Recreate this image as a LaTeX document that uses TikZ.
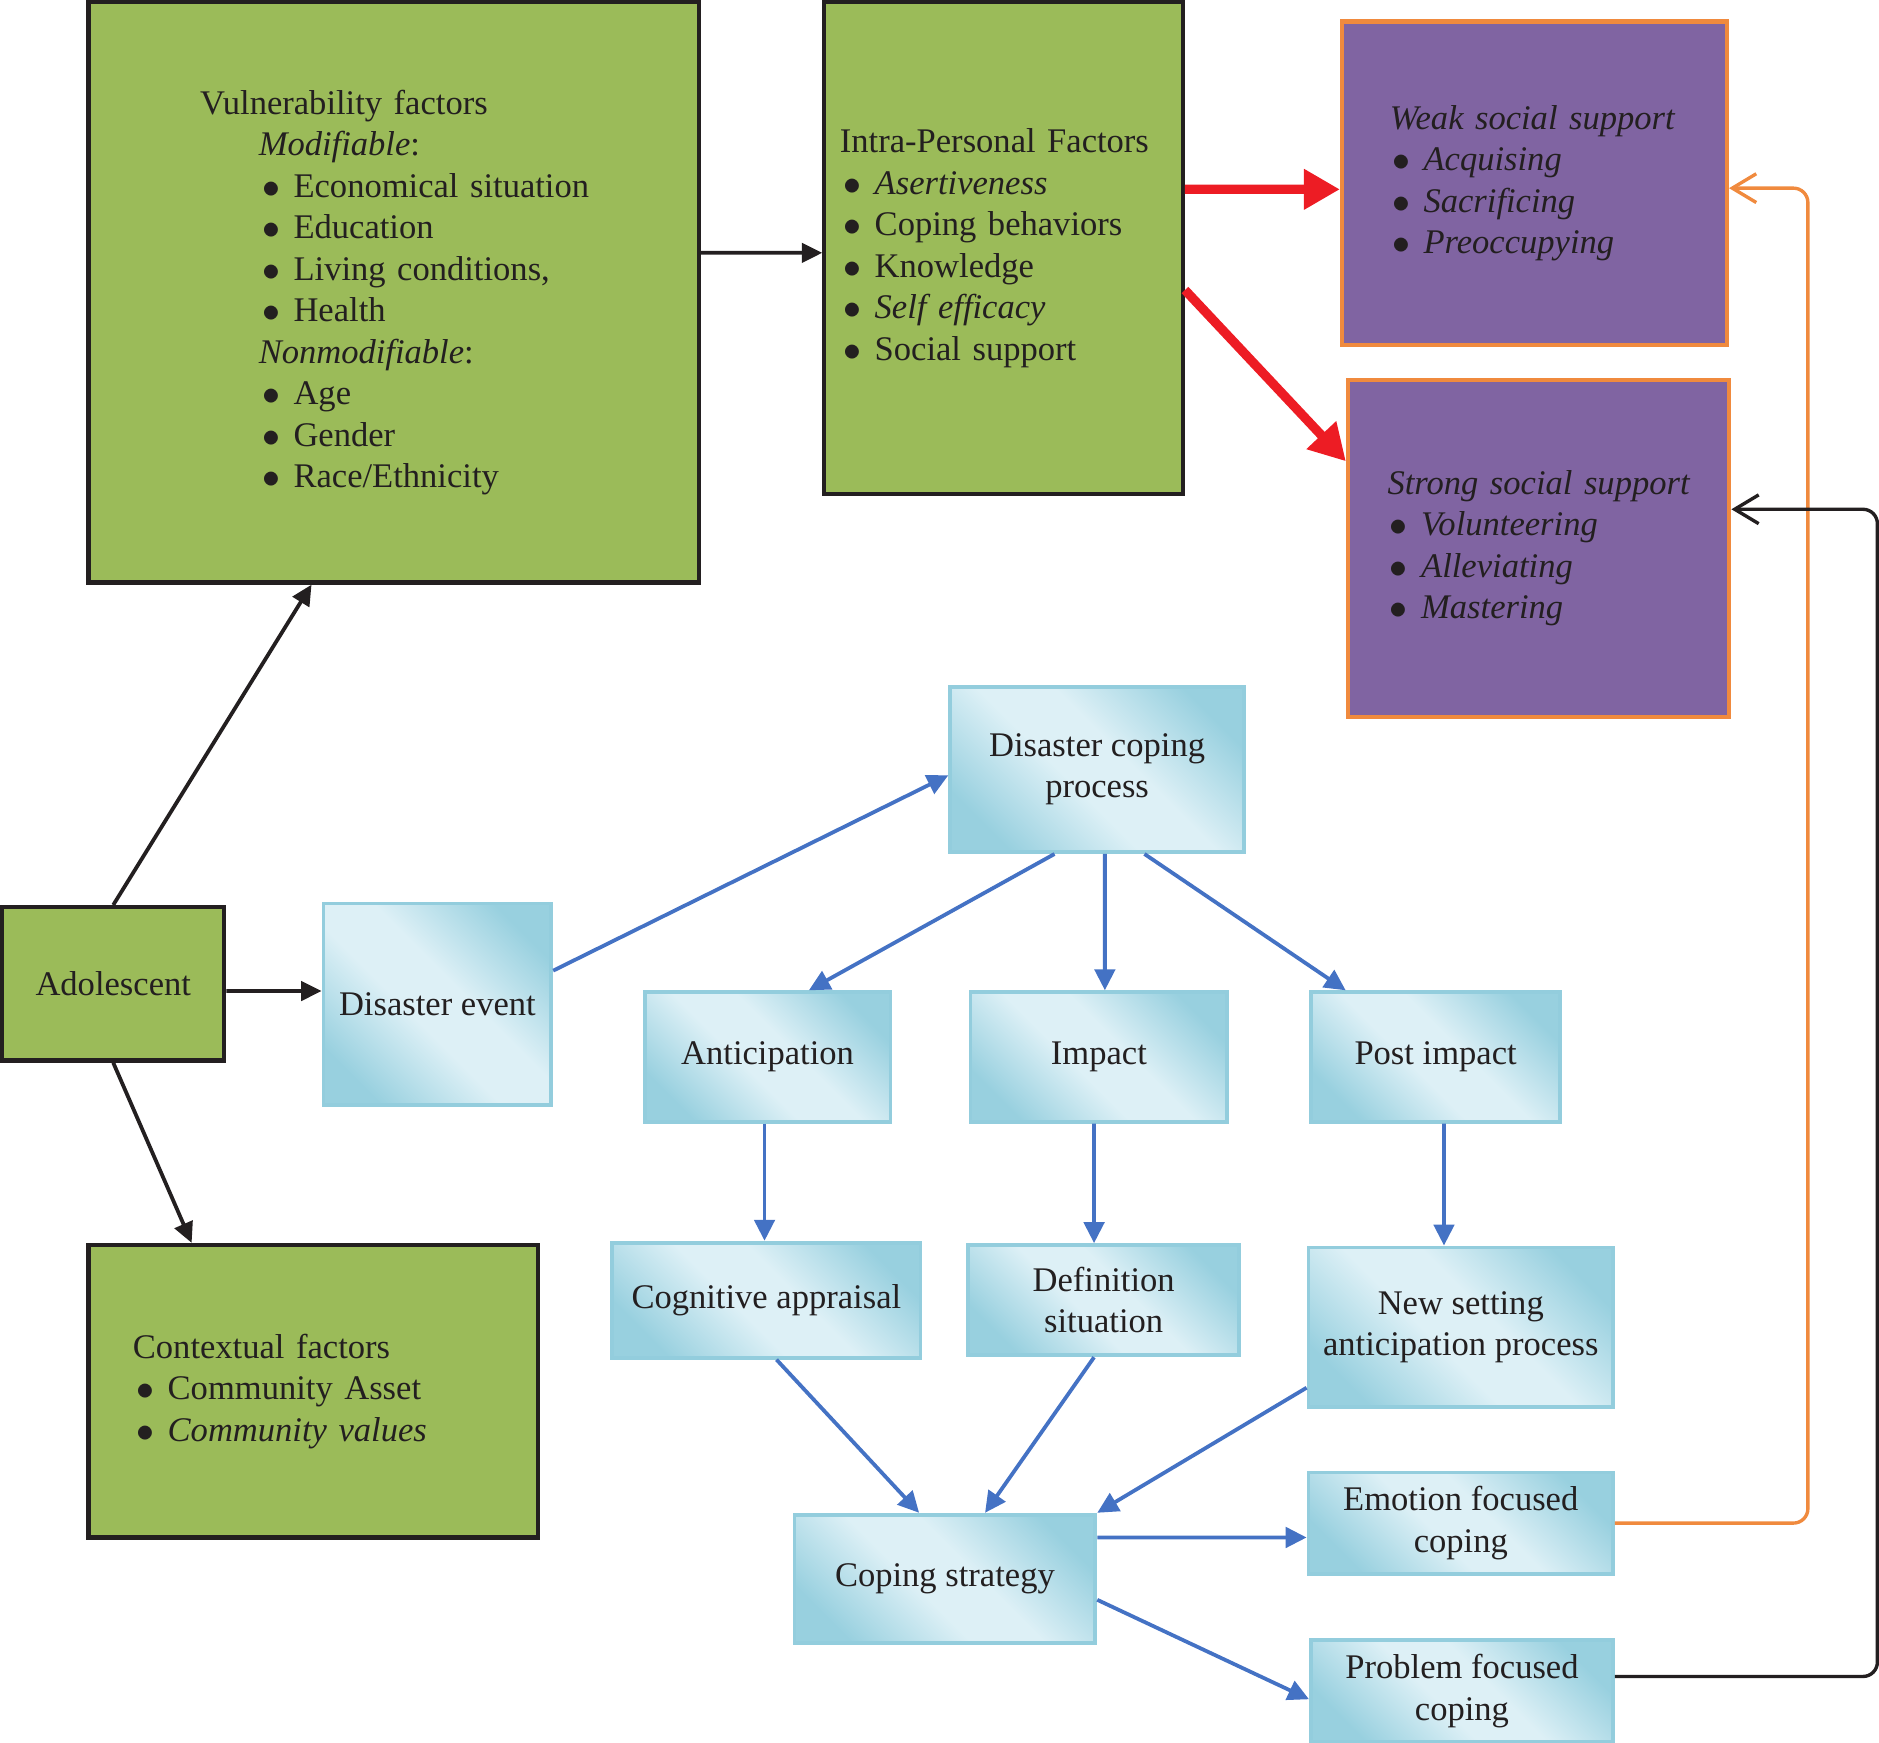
\documentclass[tikz,border=0pt]{standalone}
\usepackage{fontspec}
\setmainfont{Liberation Serif}
\usetikzlibrary{arrows.meta,positioning,calc}

\definecolor{boxgreen}{HTML}{9BBB59}
\definecolor{boxpurple}{HTML}{8064A2}
\definecolor{lineorange}{HTML}{F08A3E}
\definecolor{flowblue}{HTML}{4472C4}
\definecolor{bxline}{HTML}{93CDDD}
\definecolor{bxdark}{HTML}{98D0DF}
\definecolor{bxlight}{HTML}{DDF0F6}
\definecolor{arrred}{HTML}{ED1C24}
\definecolor{inkblack}{HTML}{231F20}

% light blue process boxes: dark corners top right / bottom left
\pgfdeclarehorizontalshading{boxshade}{100bp}{color(0bp)=(bxdark); color(24bp)=(bxdark); color(44bp)=(bxlight); color(56bp)=(bxlight); color(76bp)=(bxdark); color(100bp)=(bxdark)}

\newcommand{\bitem}[2]{\hspace*{#1}\makebox[0.26cm][l]{$\bullet$}\mbox{#2}}

\begin{document}
\begin{tikzpicture}[x=0.01cm, y=-0.01cm,
    font=\fontsize{8.2pt}{9.85pt}\selectfont, text=inkblack,
    factor/.style={draw=inkblack, line width=1pt, fill=boxgreen, align=left},
    support/.style={draw=lineorange, line width=1pt, fill=boxpurple, align=left},
    proc/.style={draw=bxline, line width=0.9pt, shade, shading=boxshade, shading angle=45, align=center},
    blk/.style={draw=inkblack, line width=0.9pt, -{Triangle[length=1.7mm,width=1.6mm]}},
    redarr/.style={draw=arrred, line width=2.2pt, -{Triangle[length=3mm,width=3.2mm]}},
    flow/.style={draw=flowblue, line width=0.9pt, -{Triangle[length=1.75mm,width=1.7mm]}},
    fb/.style={line width=0.8pt, rounded corners=0.12cm, -{Straight Barb[length=2mm,width=2.4mm]}},
]
\useasboundingbox (0,0) rectangle (1568,1454);

% green factor boxes
\node[factor, text width=3.23cm, inner xsep=0.93cm, minimum height=4.84cm] (vul) at (328.5,244) {%
    \mbox{Vulnerability factors}\\
    \hspace*{0.49cm}\textit{Modifiable}:\\
    \bitem{0.52cm}{Economical situation}\\
    \bitem{0.52cm}{Education}\\
    \bitem{0.52cm}{Living conditions,}\\
    \bitem{0.52cm}{Health}\\
    \hspace*{0.49cm}\textit{Nonmodifiable}:\\
    \bitem{0.52cm}{Age}\\
    \bitem{0.52cm}{Gender}\\
    \bitem{0.52cm}{Race/Ethnicity}};
\node[factor, text width=2.73cm, inner xsep=0.13cm, minimum height=4.10cm] (intra) at (837.5,207) {%
    \mbox{Intra-Personal Factors}\\
    \bitem{0.03cm}{\textit{Asertiveness}}\\
    \bitem{0.03cm}{Coping behaviors}\\
    \bitem{0.03cm}{Knowledge}\\
    \bitem{0.03cm}{\textit{Self efficacy}}\\
    \bitem{0.03cm}{Social support}};
\node[factor, text width=3.01cm, inner xsep=0.37cm, minimum height=2.44cm] (ctx) at (261.5,1161) {%
    \mbox{Contextual factors}\\
    \bitem{0.03cm}{Community Asset}\\
    \bitem{0.03cm}{\textit{Community values}}};
\node[factor, align=center, minimum width=1.85cm, minimum height=1.28cm] (adol) at (94.5,821) {Adolescent};

% purple support boxes
\node[support, text width=2.41cm, inner xsep=0.40cm, minimum height=2.70cm] (weak) at (1280.5,153) {%
    \mbox{\textit{Weak social support}}\\
    \bitem{0.02cm}{\textit{Acquising}}\\
    \bitem{0.02cm}{\textit{Sacrificing}}\\
    \bitem{0.02cm}{\textit{Preoccupying}}};
\node[support, text width=2.52cm, inner xsep=0.33cm, minimum height=2.81cm] (strong) at (1284,457.5) {%
    \mbox{\textit{Strong social support}}\\
    \bitem{0.02cm}{\textit{Volunteering}}\\
    \bitem{0.02cm}{\textit{Alleviating}}\\
    \bitem{0.02cm}{\textit{Mastering}}};

% coping process boxes
\node[proc, minimum width=1.90cm, minimum height=1.68cm] (dev) at (365,838) {Disaster event};
\node[proc, minimum width=2.45cm, minimum height=1.38cm] (dcp) at (915.5,642) {Disaster coping\\process};
\node[proc, minimum width=2.05cm, minimum height=1.08cm] (ant) at (640.5,882) {Anticipation};
\node[proc, minimum width=2.14cm, minimum height=1.08cm] (imp) at (917,882) {Impact};
\node[proc, minimum width=2.08cm, minimum height=1.08cm] (post) at (1198,882) {Post impact};
\node[proc, minimum width=2.57cm, minimum height=0.96cm] (cog) at (639.5,1085) {Cognitive appraisal};
\node[proc, minimum width=2.26cm, minimum height=0.92cm] (def) at (921,1085) {Definition\\situation};
\node[proc, minimum width=2.54cm, minimum height=1.33cm] (nsa) at (1219,1107.5) {New setting\\anticipation process};
\node[proc, minimum width=2.54cm, minimum height=0.84cm] (emo) at (1219,1271) {Emotion focused\\coping};
\node[proc, minimum width=2.51cm, minimum height=1.07cm] (cs) at (788.5,1317.5) {Coping strategy};
\node[proc, minimum width=2.52cm, minimum height=0.82cm] (prob) at (1220,1411) {Problem focused\\coping};

% adolescent links
\draw[blk] (adol.north) -- ([xshift=-0.685cm]vul.south);
\draw[blk] (adol.south) -- ([xshift=-1.015cm]ctx.north);
\draw[blk] ([yshift=-0.06cm]adol.east) -- ([yshift=0.11cm]dev.west);
\draw[blk] ([yshift=0.33cm]vul.east) -- ([yshift=-0.04cm]intra.west);

% intra-personal factors to support
\draw[redarr] ([yshift=0.49cm]intra.east) -- ([yshift=-0.05cm]weak.west);
\draw[redarr] ([yshift=-0.35cm]intra.east) -- ([yshift=0.725cm]strong.west);

% coping process
\draw[flow] ([yshift=0.28cm]dev.east) -- ([yshift=-0.05cm]dcp.west);
\draw[flow] ([xshift=-0.355cm]dcp.south) -- ([xshift=0.345cm]ant.north);
\draw[flow] ([xshift=0.065cm]dcp.south) -- ([xshift=0.05cm]imp.north);
\draw[flow] ([xshift=0.395cm]dcp.south) -- ([xshift=-0.75cm]post.north);
\draw[flow] ([xshift=-0.025cm]ant.south) -- ([xshift=-0.015cm]cog.north);
\draw[flow] ([xshift=-0.04cm]imp.south) -- ([xshift=-0.08cm]def.north);
\draw[flow] ([xshift=0.07cm]post.south) -- ([xshift=-0.14cm]nsa.north);
\draw[flow] ([xshift=0.085cm]cog.south) -- ([xshift=-0.215cm]cs.north);
\draw[flow] ([xshift=-0.08cm]def.south) -- ([xshift=0.335cm]cs.north);
\draw[flow] ([yshift=-0.505cm]nsa.west) -- (cs.north east);
\draw[flow] ([yshift=0.345cm]cs.east) -- ([yshift=-0.12cm]emo.west);
\draw[flow] ([yshift=-0.175cm]cs.east) -- ([yshift=-0.07cm]prob.west);

% feedback loops
\draw[fb, lineorange] (emo.east) -- ++(161,0) |- ([yshift=-0.04cm]weak.east);
\draw[fb, inkblack] ([yshift=0.12cm]prob.east) -- ++(219,0) |- ([yshift=0.325cm]strong.east);
\end{tikzpicture}
\end{document}
